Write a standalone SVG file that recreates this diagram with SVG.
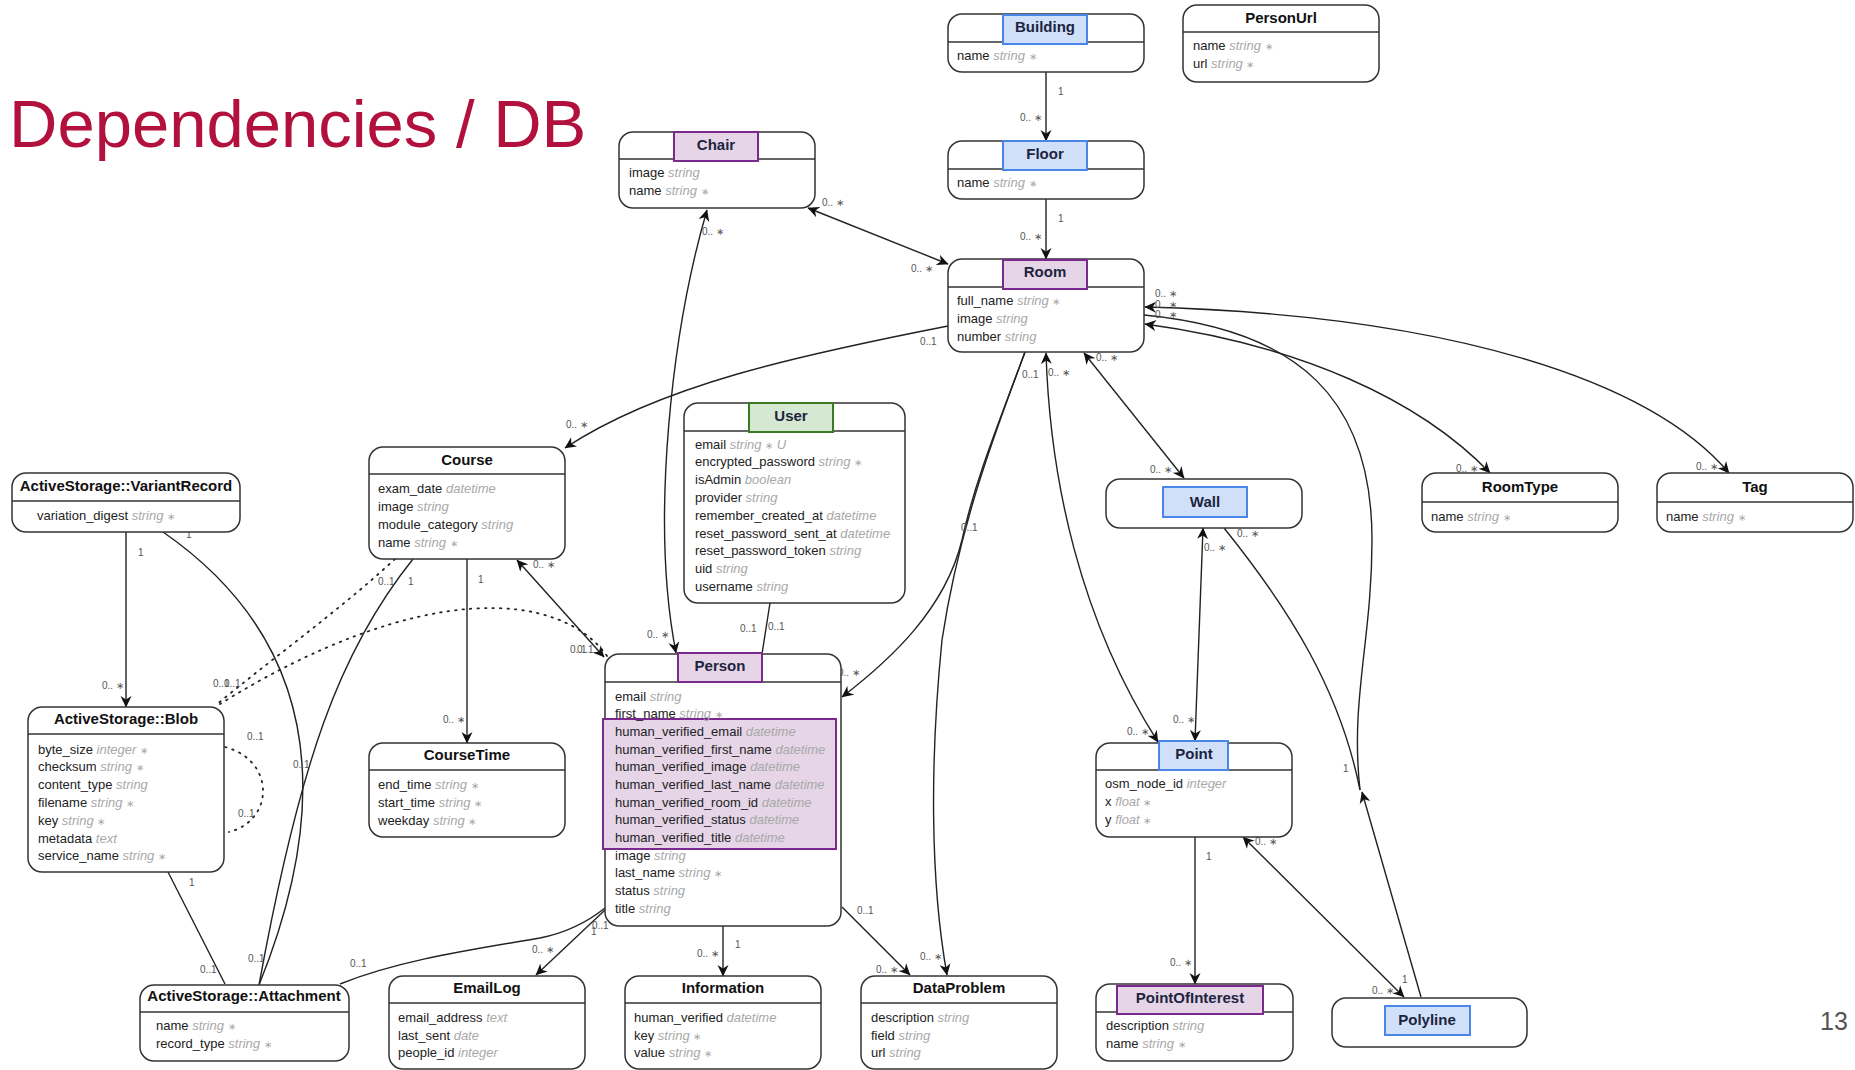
<svg xmlns="http://www.w3.org/2000/svg" width="1855" height="1070" viewBox="0 0 1855 1070">
<style>
  .box{fill:#fff;stroke:#333;stroke-width:1.5}
  .sep{stroke:#333;stroke-width:1.5}
  .ttl{font-family:"Liberation Sans",Arial,sans-serif;font-size:15px;font-weight:bold;fill:#111;text-anchor:middle}
  .hl .ttl{fill:#1d2440}
  .at{font-family:"Liberation Sans",Arial,sans-serif;font-size:13px;fill:#222}
  .ty{fill:#a8a8a8;font-style:italic}
  .st{fill:#a8a8a8;font-size:10px}
  .hb{fill:#cfe0f8;stroke:#4a86e8;stroke-width:2}
  .hp{fill:#e5d5e7;stroke:#7a2a8c;stroke-width:2}
  .hg{fill:#d5e8d2;stroke:#3a7a22;stroke-width:2}
  .e{fill:none;stroke:#222;stroke-width:1.4}
  .d{stroke-dasharray:1.5 6;stroke-linecap:round;stroke-width:1.8}
  .a{marker-end:url(#vee)}
  .aa{marker-start:url(#vee);marker-end:url(#vee)}
  .lb{font-family:"Liberation Sans",Arial,sans-serif;font-size:10px;fill:#555}
</style>
<defs>
  <marker id="vee" viewBox="0 0 12 12" refX="11" refY="6" markerWidth="12" markerHeight="12" markerUnits="userSpaceOnUse" orient="auto-start-reverse">
    <path d="M0,0.5 L11.5,6 L0,11.5 L3.5,6 Z" fill="#111"/>
  </marker>
</defs>
<rect width="1855" height="1070" fill="#fff"/>

<text x="9" y="147" font-family="Liberation Sans,Arial,sans-serif" font-size="67" fill="#b1113c">Dependencies / DB</text>
<text x="1820" y="1030" font-family="Liberation Sans,Arial,sans-serif" font-size="25" fill="#555">13</text>

<g id="connectors">
  <path class="e a" d="M1046,72 L1046,141"/>
  <path class="e a" d="M1046,199 L1046,259"/>
  <path class="e aa" d="M808,208 L948,264"/>
  <path class="e a" d="M948,326 C800,355 660,385 565,448"/>
  <path class="e aa" d="M707,210 C672,330 650,520 676,653"/>
  <path class="e a" d="M1025,352 C1000,420 975,480 962,540 C945,610 890,660 842,697"/>
  <path class="e a" d="M1025,352 C1000,420 960,520 942,640 C930,760 930,880 947,975"/>
  <path class="e aa" d="M1046,353 C1050,480 1080,620 1158,742"/>
  <path class="e aa" d="M1084,353 L1184,478"/>
  <path class="e aa" d="M1145,324 C1300,345 1420,400 1490,473"/>
  <path class="e aa" d="M1145,307 C1450,315 1650,380 1729,473"/>
  <path class="e" d="M1144,315 C1300,330 1372,400 1372,540 C1372,640 1350,700 1360,790"/>
  <path class="e a" d="M1421,997 L1362,792"/>
  <path class="e" d="M1224,528 C1290,610 1340,690 1360,790"/>
  <path class="e aa" d="M1203,528 L1195,741"/>
  <path class="e aa" d="M1243,837 L1404,997"/>
  <path class="e a" d="M1195,837 L1195,984"/>
  <path class="e a" d="M467,559 L467,743"/>
  <path class="e aa" d="M517,560 L604,657"/>
  <path class="e" d="M770,603 L762,654"/>
  <path class="e a" d="M126,532 L126,707"/>
  <path class="e" d="M163,532 C290,620 350,760 259,985"/>
  <path class="e" d="M413,559 C340,650 300,760 259,985"/>
  <path class="e d" d="M395,559 C340,610 270,660 215,706"/>
  <path class="e d" d="M607,656 C560,590 420,580 220,704"/>
  <path class="e d" d="M225,747 C275,760 275,820 229,832"/>
  <path class="e" d="M168,872 L225,984"/>
  <path class="e" d="M340,984 C400,960 470,950 540,938 C570,932 590,920 605,908"/>
  <path class="e a" d="M605,910 L536,975"/>
  <path class="e a" d="M723,926 L723,976"/>
  <path class="e a" d="M842,907 L910,975"/>

  <g class="lb">
    <text x="1058" y="95">1</text><text x="1020" y="121">0.. ∗</text>
    <text x="1058" y="222">1</text><text x="1020" y="240">0.. ∗</text>
    <text x="822" y="206">0.. ∗</text><text x="911" y="272">0.. ∗</text>
    <text x="920" y="345">0..1</text><text x="566" y="428">0.. ∗</text>
    <text x="702" y="235">0.. ∗</text><text x="647" y="638">0.. ∗</text>
    <text x="1022" y="378">0..1</text><text x="961" y="531">0..1</text>
    <text x="838" y="676">0.. ∗</text><text x="920" y="960">0.. ∗</text>
    <text x="1048" y="376">0.. ∗</text><text x="1127" y="735">0.. ∗</text>
    <text x="1096" y="361">0.. ∗</text><text x="1150" y="473">0.. ∗</text>
    <text x="1155" y="297">0.. ∗</text><text x="1456" y="472">0.. ∗</text>
    <text x="1155" y="308">0.. ∗</text><text x="1696" y="470">0.. ∗</text>
    <text x="1155" y="318">0.. ∗</text><text x="1343" y="772">1</text>
    <text x="1237" y="537">0.. ∗</text>
    <text x="1204" y="551">0.. ∗</text><text x="1173" y="723">0.. ∗</text>
    <text x="1255" y="845">0.. ∗</text><text x="1372" y="994">0.. ∗</text><text x="1402" y="983">1</text>
    <text x="1206" y="860">1</text><text x="1170" y="966">0.. ∗</text>
    <text x="478" y="583">1</text><text x="443" y="723">0.. ∗</text>
    <text x="533" y="568">0.. ∗</text>
    <text x="570" y="653">0..1</text><text x="577" y="653">0..1</text>
    <text x="740" y="632">0..1</text><text x="768" y="630">0..1</text>
    <text x="138" y="556">1</text><text x="102" y="689">0.. ∗</text>
    <text x="186" y="538">1</text><text x="293" y="768">0..1</text><text x="248" y="962">0..1</text>
    <text x="378" y="585">0..1</text><text x="408" y="585">1</text>
    <text x="213" y="687">0..1</text><text x="224" y="687">0..1</text>
    <text x="247" y="740">0..1</text><text x="238" y="817">0..1</text>
    <text x="189" y="886">1</text><text x="200" y="973">0..1</text>
    <text x="350" y="967">0..1</text><text x="592" y="929">0..1</text><text x="591" y="935">1</text>
    <text x="532" y="953">0.. ∗</text>
    <text x="735" y="948">1</text><text x="697" y="957">0.. ∗</text>
    <text x="857" y="914">0..1</text><text x="876" y="973">0.. ∗</text>
  </g>
</g>

<g id="Building" class="hl">
  <rect class="box" x="948" y="14" width="196" height="58" rx="14"/>
  <line class="sep" x1="948" y1="42" x2="1144" y2="42"/>
  <rect class="hb" x="1003" y="15" width="84" height="29"/>
  <text class="ttl" x="1045" y="31.5">Building</text>
  <text class="at" x="957" y="60">name <tspan class="ty">string</tspan> <tspan class="st">∗</tspan></text>
</g>

<g id="PersonUrl">
  <rect class="box" x="1183" y="5" width="196" height="77" rx="14"/>
  <line class="sep" x1="1183" y1="32" x2="1379" y2="32"/>
  <text class="ttl" x="1281" y="22.5">PersonUrl</text>
  <text class="at" x="1193" y="50">name <tspan class="ty">string</tspan> <tspan class="st">∗</tspan></text>
  <text class="at" x="1193" y="68">url <tspan class="ty">string</tspan> <tspan class="st">∗</tspan></text>
</g>

<g id="Floor" class="hl">
  <rect class="box" x="948" y="141" width="196" height="58" rx="14"/>
  <line class="sep" x1="948" y1="169" x2="1144" y2="169"/>
  <rect class="hb" x="1003" y="141" width="84" height="29"/>
  <text class="ttl" x="1045" y="158.5">Floor</text>
  <text class="at" x="957" y="187">name <tspan class="ty">string</tspan> <tspan class="st">∗</tspan></text>
</g>

<g id="Room" class="hl">
  <rect class="box" x="948" y="259" width="196" height="93" rx="14"/>
  <line class="sep" x1="948" y1="287" x2="1144" y2="287"/>
  <rect class="hp" x="1003" y="260" width="84" height="29"/>
  <text class="ttl" x="1045" y="277">Room</text>
  <text class="at" x="957" y="305">full_name <tspan class="ty">string</tspan> <tspan class="st">∗</tspan></text>
  <text class="at" x="957" y="323">image <tspan class="ty">string</tspan></text>
  <text class="at" x="957" y="341">number <tspan class="ty">string</tspan></text>
</g>

<g id="Chair" class="hl">
  <rect class="box" x="619" y="132" width="196" height="76" rx="14"/>
  <line class="sep" x1="619" y1="159" x2="815" y2="159"/>
  <rect class="hp" x="674" y="132" width="84" height="29"/>
  <text class="ttl" x="716" y="149.5">Chair</text>
  <text class="at" x="629" y="177">image <tspan class="ty">string</tspan></text>
  <text class="at" x="629" y="195">name <tspan class="ty">string</tspan> <tspan class="st">∗</tspan></text>
</g>

<g id="User" class="hl">
  <rect class="box" x="684" y="403" width="221" height="200" rx="14"/>
  <line class="sep" x1="684" y1="431" x2="905" y2="431"/>
  <rect class="hg" x="749" y="403" width="84" height="29"/>
  <text class="ttl" x="791" y="420.5">User</text>
  <text class="at" x="695" y="448.5">email <tspan class="ty">string</tspan> <tspan class="st">∗</tspan> <tspan class="ty">U</tspan></text>
  <text class="at" x="695" y="466.3">encrypted_password <tspan class="ty">string</tspan> <tspan class="st">∗</tspan></text>
  <text class="at" x="695" y="484.1">isAdmin <tspan class="ty">boolean</tspan></text>
  <text class="at" x="695" y="501.9">provider <tspan class="ty">string</tspan></text>
  <text class="at" x="695" y="519.7">remember_created_at <tspan class="ty">datetime</tspan></text>
  <text class="at" x="695" y="537.5">reset_password_sent_at <tspan class="ty">datetime</tspan></text>
  <text class="at" x="695" y="555.3">reset_password_token <tspan class="ty">string</tspan></text>
  <text class="at" x="695" y="573.1">uid <tspan class="ty">string</tspan></text>
  <text class="at" x="695" y="590.9">username <tspan class="ty">string</tspan></text>
</g>

<g id="Course">
  <rect class="box" x="369" y="447" width="196" height="112" rx="14"/>
  <line class="sep" x1="369" y1="474" x2="565" y2="474"/>
  <text class="ttl" x="467" y="465">Course</text>
  <text class="at" x="378" y="492.5">exam_date <tspan class="ty">datetime</tspan></text>
  <text class="at" x="378" y="510.5">image <tspan class="ty">string</tspan></text>
  <text class="at" x="378" y="528.5">module_category <tspan class="ty">string</tspan></text>
  <text class="at" x="378" y="546.5">name <tspan class="ty">string</tspan> <tspan class="st">∗</tspan></text>
</g>

<g id="VariantRecord">
  <rect class="box" x="12" y="473" width="228" height="59" rx="14"/>
  <line class="sep" x1="12" y1="501" x2="240" y2="501"/>
  <text class="ttl" x="126" y="491">ActiveStorage::VariantRecord</text>
  <text class="at" x="37" y="520">variation_digest <tspan class="ty">string</tspan> <tspan class="st">∗</tspan></text>
</g>

<g id="RoomType">
  <rect class="box" x="1422" y="473" width="196" height="59" rx="14"/>
  <line class="sep" x1="1422" y1="502" x2="1618" y2="502"/>
  <text class="ttl" x="1520" y="492">RoomType</text>
  <text class="at" x="1431" y="521">name <tspan class="ty">string</tspan> <tspan class="st">∗</tspan></text>
</g>

<g id="Tag">
  <rect class="box" x="1657" y="473" width="196" height="59" rx="14"/>
  <line class="sep" x1="1657" y1="502" x2="1853" y2="502"/>
  <text class="ttl" x="1755" y="492">Tag</text>
  <text class="at" x="1666" y="521">name <tspan class="ty">string</tspan> <tspan class="st">∗</tspan></text>
</g>

<g id="Wall" class="hl">
  <rect class="box" x="1106" y="479" width="196" height="49" rx="14"/>
  <rect class="hb" x="1163" y="487" width="84" height="30"/>
  <text class="ttl" x="1205" y="507">Wall</text>
</g>

<g id="Blob">
  <rect class="box" x="28" y="707" width="196" height="165" rx="14"/>
  <line class="sep" x1="28" y1="734" x2="224" y2="734"/>
  <text class="ttl" x="126" y="724">ActiveStorage::Blob</text>
  <text class="at" x="38" y="753.5">byte_size <tspan class="ty">integer</tspan> <tspan class="st">∗</tspan></text>
  <text class="at" x="38" y="771.3">checksum <tspan class="ty">string</tspan> <tspan class="st">∗</tspan></text>
  <text class="at" x="38" y="789.1">content_type <tspan class="ty">string</tspan></text>
  <text class="at" x="38" y="806.9">filename <tspan class="ty">string</tspan> <tspan class="st">∗</tspan></text>
  <text class="at" x="38" y="824.7">key <tspan class="ty">string</tspan> <tspan class="st">∗</tspan></text>
  <text class="at" x="38" y="842.5">metadata <tspan class="ty">text</tspan></text>
  <text class="at" x="38" y="860.3">service_name <tspan class="ty">string</tspan> <tspan class="st">∗</tspan></text>
</g>

<g id="CourseTime">
  <rect class="box" x="369" y="743" width="196" height="94" rx="14"/>
  <line class="sep" x1="369" y1="770" x2="565" y2="770"/>
  <text class="ttl" x="467" y="760">CourseTime</text>
  <text class="at" x="378" y="788.5">end_time <tspan class="ty">string</tspan> <tspan class="st">∗</tspan></text>
  <text class="at" x="378" y="806.5">start_time <tspan class="ty">string</tspan> <tspan class="st">∗</tspan></text>
  <text class="at" x="378" y="824.5">weekday <tspan class="ty">string</tspan> <tspan class="st">∗</tspan></text>
</g>

<g id="Person" class="hl">
  <rect class="box" x="605" y="654" width="236" height="272" rx="14"/>
  <line class="sep" x1="605" y1="682" x2="841" y2="682"/>
  <rect class="hp" x="678" y="653" width="84" height="29"/>
  <text class="ttl" x="720" y="670.5">Person</text>
  <rect class="hp" x="603" y="719" width="233" height="130"/>
  <text class="at" x="615" y="700.5">email <tspan class="ty">string</tspan></text>
  <text class="at" x="615" y="718.2">first_name <tspan class="ty">string</tspan> <tspan class="st">∗</tspan></text>
  <text class="at" x="615" y="735.8">human_verified_email <tspan class="ty">datetime</tspan></text>
  <text class="at" x="615" y="753.5">human_verified_first_name <tspan class="ty">datetime</tspan></text>
  <text class="at" x="615" y="771.2">human_verified_image <tspan class="ty">datetime</tspan></text>
  <text class="at" x="615" y="788.8">human_verified_last_name <tspan class="ty">datetime</tspan></text>
  <text class="at" x="615" y="806.5">human_verified_room_id <tspan class="ty">datetime</tspan></text>
  <text class="at" x="615" y="824.2">human_verified_status <tspan class="ty">datetime</tspan></text>
  <text class="at" x="615" y="841.8">human_verified_title <tspan class="ty">datetime</tspan></text>
  <text class="at" x="615" y="859.5">image <tspan class="ty">string</tspan></text>
  <text class="at" x="615" y="877.2">last_name <tspan class="ty">string</tspan> <tspan class="st">∗</tspan></text>
  <text class="at" x="615" y="894.8">status <tspan class="ty">string</tspan></text>
  <text class="at" x="615" y="912.5">title <tspan class="ty">string</tspan></text>
</g>

<g id="Point" class="hl">
  <rect class="box" x="1096" y="743" width="196" height="94" rx="14"/>
  <line class="sep" x1="1096" y1="770" x2="1292" y2="770"/>
  <rect class="hb" x="1159" y="741" width="69" height="29"/>
  <text class="ttl" x="1194" y="758.5">Point</text>
  <text class="at" x="1105" y="787.5">osm_node_id <tspan class="ty">integer</tspan></text>
  <text class="at" x="1105" y="805.5">x <tspan class="ty">float</tspan> <tspan class="st">∗</tspan></text>
  <text class="at" x="1105" y="823.5">y <tspan class="ty">float</tspan> <tspan class="st">∗</tspan></text>
</g>

<g id="Attachment">
  <rect class="box" x="140" y="985" width="209" height="76" rx="14"/>
  <line class="sep" x1="140" y1="1012" x2="349" y2="1012"/>
  <text class="ttl" x="244" y="1001">ActiveStorage::Attachment</text>
  <text class="at" x="156" y="1029.5">name <tspan class="ty">string</tspan> <tspan class="st">∗</tspan></text>
  <text class="at" x="156" y="1047.5">record_type <tspan class="ty">string</tspan> <tspan class="st">∗</tspan></text>
</g>

<g id="EmailLog">
  <rect class="box" x="389" y="976" width="196" height="93" rx="14"/>
  <line class="sep" x1="389" y1="1003" x2="585" y2="1003"/>
  <text class="ttl" x="487" y="993">EmailLog</text>
  <text class="at" x="398" y="1021.5">email_address <tspan class="ty">text</tspan></text>
  <text class="at" x="398" y="1039.5">last_sent <tspan class="ty">date</tspan></text>
  <text class="at" x="398" y="1057">people_id <tspan class="ty">integer</tspan></text>
</g>

<g id="Information">
  <rect class="box" x="625" y="976" width="196" height="93" rx="14"/>
  <line class="sep" x1="625" y1="1003" x2="821" y2="1003"/>
  <text class="ttl" x="723" y="993">Information</text>
  <text class="at" x="634" y="1021.5">human_verified <tspan class="ty">datetime</tspan></text>
  <text class="at" x="634" y="1039.5">key <tspan class="ty">string</tspan> <tspan class="st">∗</tspan></text>
  <text class="at" x="634" y="1057">value <tspan class="ty">string</tspan> <tspan class="st">∗</tspan></text>
</g>

<g id="DataProblem">
  <rect class="box" x="861" y="976" width="196" height="93" rx="14"/>
  <line class="sep" x1="861" y1="1003" x2="1057" y2="1003"/>
  <text class="ttl" x="959" y="993">DataProblem</text>
  <text class="at" x="871" y="1021.5">description <tspan class="ty">string</tspan></text>
  <text class="at" x="871" y="1039.5">field <tspan class="ty">string</tspan></text>
  <text class="at" x="871" y="1057">url <tspan class="ty">string</tspan></text>
</g>

<g id="PointOfInterest" class="hl">
  <rect class="box" x="1096" y="984" width="197" height="77" rx="14"/>
  <line class="sep" x1="1096" y1="1012" x2="1293" y2="1012"/>
  <rect class="hp" x="1117" y="986" width="146" height="28"/>
  <text class="ttl" x="1190" y="1002.5">PointOfInterest</text>
  <text class="at" x="1106" y="1029.5">description <tspan class="ty">string</tspan></text>
  <text class="at" x="1106" y="1047.5">name <tspan class="ty">string</tspan> <tspan class="st">∗</tspan></text>
</g>

<g id="Polyline" class="hl">
  <rect class="box" x="1332" y="998" width="195" height="49" rx="14"/>
  <rect class="hb" x="1385" y="1006" width="85" height="29"/>
  <text class="ttl" x="1427" y="1025">Polyline</text>
</g>
</svg>
